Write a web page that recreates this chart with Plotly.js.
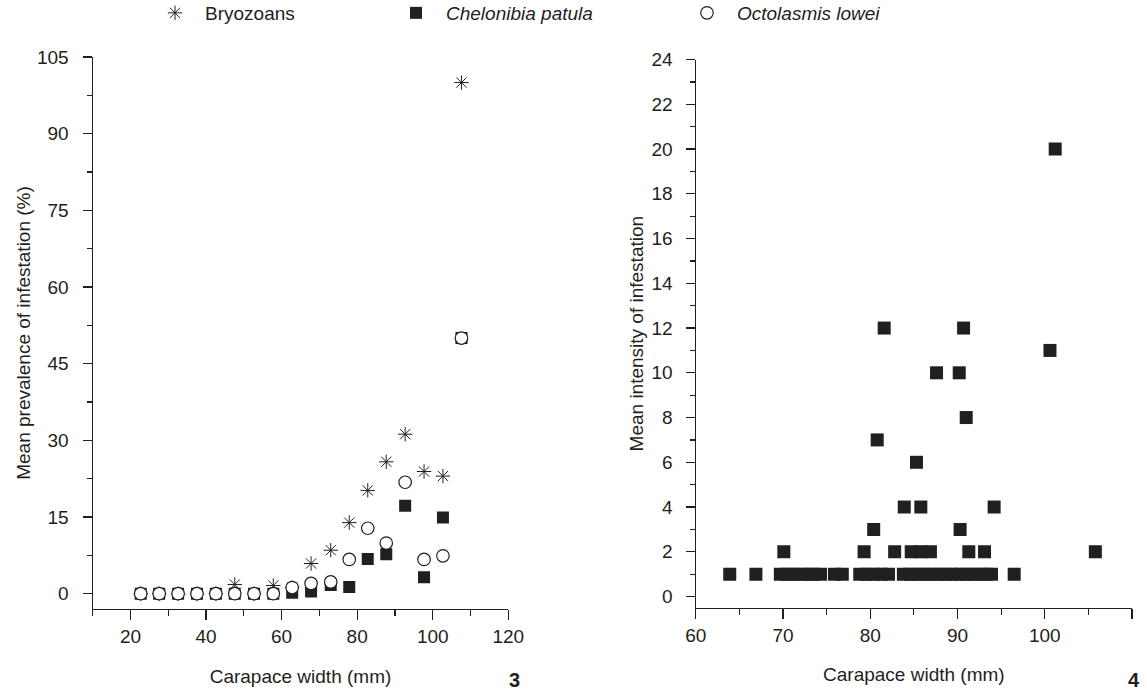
<!DOCTYPE html>
<html>
<head>
<meta charset="utf-8">
<script src="https://cdn.plot.ly/plotly-3.0.1.min.js"></script>
<style>html,body{margin:0;padding:0;background:#fff;}#chart{width:1147px;height:692px;}</style>
</head>
<body>
<div id="chart"></div>
<script>
// Figure 3: mean prevalence by carapace width class
const prevX = [22.7, 27.6, 32.6, 37.6, 42.6, 47.6, 52.7, 57.8, 62.8, 67.8, 73.0, 77.9, 82.8, 87.7, 92.7, 97.7, 102.7, 107.6];
const bryozoans = [0, 0, 0, 0, 0, 1.8, 0, 1.6, 1.2, 5.9, 8.5, 13.9, 20.2, 25.8, 31.2, 23.9, 23.0, 100];
const chelonibia = [0, 0, 0, 0, 0, 0, 0, 0, 0.2, 0.4, 1.7, 1.3, 6.8, 7.7, 17.2, 3.2, 14.9, 50];
const octolasmis = [0, 0, 0, 0, 0, 0, 0, 0, 1.2, 2.0, 2.3, 6.7, 12.8, 9.9, 21.8, 6.7, 7.4, 50];

// Figure 4: mean intensity of Chelonibia patula vs carapace width
const intensityX = [
  63.9, 66.9, 69.7, 70.5, 71.2, 72.0, 72.8, 73.5, 74.3, 75.9, 76.8, 78.8, 79.6, 80.4, 81.3, 82.1,
  83.8, 84.6, 85.4, 86.2, 87.0, 87.8, 88.6, 89.4, 90.2, 91.0, 91.8, 92.6, 93.3, 93.9, 96.5,
  70.1, 79.3, 82.8, 84.7, 85.8, 86.9, 91.3, 93.1, 105.8,
  80.4, 90.3,
  83.9, 85.8, 94.2,
  85.3, 80.8, 91.0, 87.6, 90.2, 100.6, 81.6, 90.7, 101.2
];
const intensityY = [
  1, 1, 1, 1, 1, 1, 1, 1, 1, 1, 1, 1, 1, 1, 1, 1,
  1, 1, 1, 1, 1, 1, 1, 1, 1, 1, 1, 1, 1, 1, 1,
  2, 2, 2, 2, 2, 2, 2, 2, 2,
  3, 3,
  4, 4, 4,
  6, 7, 8, 10, 10, 11, 12, 12, 20
];

const seriesNames = ['Bryozoans', '<i>Chelonibia patula</i>', '<i>Octolasmis lowei</i>'];
const xTitle = 'Carapace width (mm)';
const yTitleLeft = 'Mean prevalence of infestation (%)';
const yTitleRight = 'Mean intensity of infestation';
const panelLabels = ['3', '4'];

const ink = '#231f20';
const fam = '"Liberation Sans", Arial, Helvetica, sans-serif';
const fs = 19;

const traces = [
  {x: prevX, y: bryozoans, type: 'scatter', mode: 'markers', name: seriesNames[0],
   xaxis: 'x', yaxis: 'y', legend: 'legend',
   marker: {symbol: 'asterisk-open', size: 12, color: ink, line: {color: ink, width: 1}}},
  {x: prevX, y: chelonibia, type: 'scatter', mode: 'markers', name: seriesNames[1],
   xaxis: 'x', yaxis: 'y', legend: 'legend2',
   marker: {symbol: 'square', size: 12, color: ink, line: {width: 0}}},
  {x: prevX, y: octolasmis, type: 'scatter', mode: 'markers', name: seriesNames[2],
   xaxis: 'x', yaxis: 'y', legend: 'legend3',
   marker: {symbol: 'circle', size: 12.5, color: '#ffffff', line: {color: ink, width: 1.2}}},
  {x: intensityX, y: intensityY, type: 'scatter', mode: 'markers', name: seriesNames[1],
   xaxis: 'x2', yaxis: 'y2', showlegend: false,
   marker: {symbol: 'square', size: 13, color: ink, line: {width: 0}}}
];

const axBase = {
  showline: true, linecolor: ink, linewidth: 1.2, showgrid: false, zeroline: false,
  ticks: 'outside', tickcolor: ink, tickwidth: 1.2, ticklen: 10, automargin: false,
  tickfont: {family: fam, size: fs, color: ink},
  fixedrange: true
};

const legBase = {
  orientation: 'h', yanchor: 'top', y: 1 + 6 / 692, xanchor: 'left', itemwidth: 50,
  font: {family: fam, size: fs, color: ink}, bgcolor: 'rgba(0,0,0,0)', borderwidth: 0
};

const layout = {
  width: 1147, height: 692,
  margin: {l: 0, r: 0, t: 0, b: 0, autoexpand: false},
  paper_bgcolor: '#ffffff', plot_bgcolor: 'rgba(0,0,0,0)',
  font: {family: fam, size: fs, color: ink},
  showlegend: true,
  legend: Object.assign({}, legBase, {x: 145 / 1147}),
  legend2: Object.assign({}, legBase, {x: 386 / 1147}),
  legend3: Object.assign({}, legBase, {x: 677 / 1147}),
  xaxis: Object.assign({}, axBase, {
    domain: [92.7 / 1147, 508.3 / 1147], anchor: 'y',
    range: [10, 120], tick0: 20, dtick: 20,
    minor: {dtick: 10, tick0: 10, ticks: 'outside', ticklen: 6, tickcolor: ink, tickwidth: 1.2},
    title: {text: xTitle, font: {family: fam, size: fs, color: ink}, standoff: 23}
  }),
  yaxis: Object.assign({}, axBase, {
    domain: [1 - 609 / 692, 1 - 57 / 692], anchor: 'x',
    range: [-3, 105], tick0: 0, dtick: 15, ticklen: 9, ticklabelstandoff: 10,
    minor: {dtick: 7.5, tick0: 0, ticks: 'outside', ticklen: 5, tickcolor: ink, tickwidth: 1.2},
    title: {text: yTitleLeft, font: {family: fam, size: fs, color: ink}, standoff: 1}
  }),
  xaxis2: Object.assign({}, axBase, {
    domain: [695.7 / 1147, 1132 / 1147], anchor: 'y2',
    range: [60, 110], tick0: 60, dtick: 10,
    minor: {dtick: 5, tick0: 60, ticks: 'outside', ticklen: 6, tickcolor: ink, tickwidth: 1.2},
    title: {text: xTitle, font: {family: fam, size: fs, color: ink}, standoff: 23}
  }),
  yaxis2: Object.assign({}, axBase, {
    domain: [1 - 607.7 / 692, 1 - 59.6 / 692], anchor: 'x2',
    range: [-0.5, 24], tick0: 0, dtick: 2, ticklen: 9, ticklabelstandoff: 9,
    minor: {dtick: 1, tick0: 0, ticks: 'outside', ticklen: 5, tickcolor: ink, tickwidth: 1.2},
    title: {text: yTitleRight, font: {family: fam, size: fs, color: ink}, standoff: 3}
  }),
  annotations: [
    {text: '<b>' + panelLabels[0] + '</b>', xref: 'paper', yref: 'paper', x: 514 / 1147, y: 1 - 680 / 692,
     xanchor: 'center', yanchor: 'middle', showarrow: false, font: {family: fam, size: 20, color: ink}},
    {text: '<b>' + panelLabels[1] + '</b>', xref: 'paper', yref: 'paper', x: 1134 / 1147, y: 1 - 680 / 692,
     xanchor: 'center', yanchor: 'middle', showarrow: false, font: {family: fam, size: 20, color: ink}}
  ]
};

Plotly.newPlot('chart', traces, layout, {displayModeBar: false, staticPlot: true});
</script>
</body>
</html>
